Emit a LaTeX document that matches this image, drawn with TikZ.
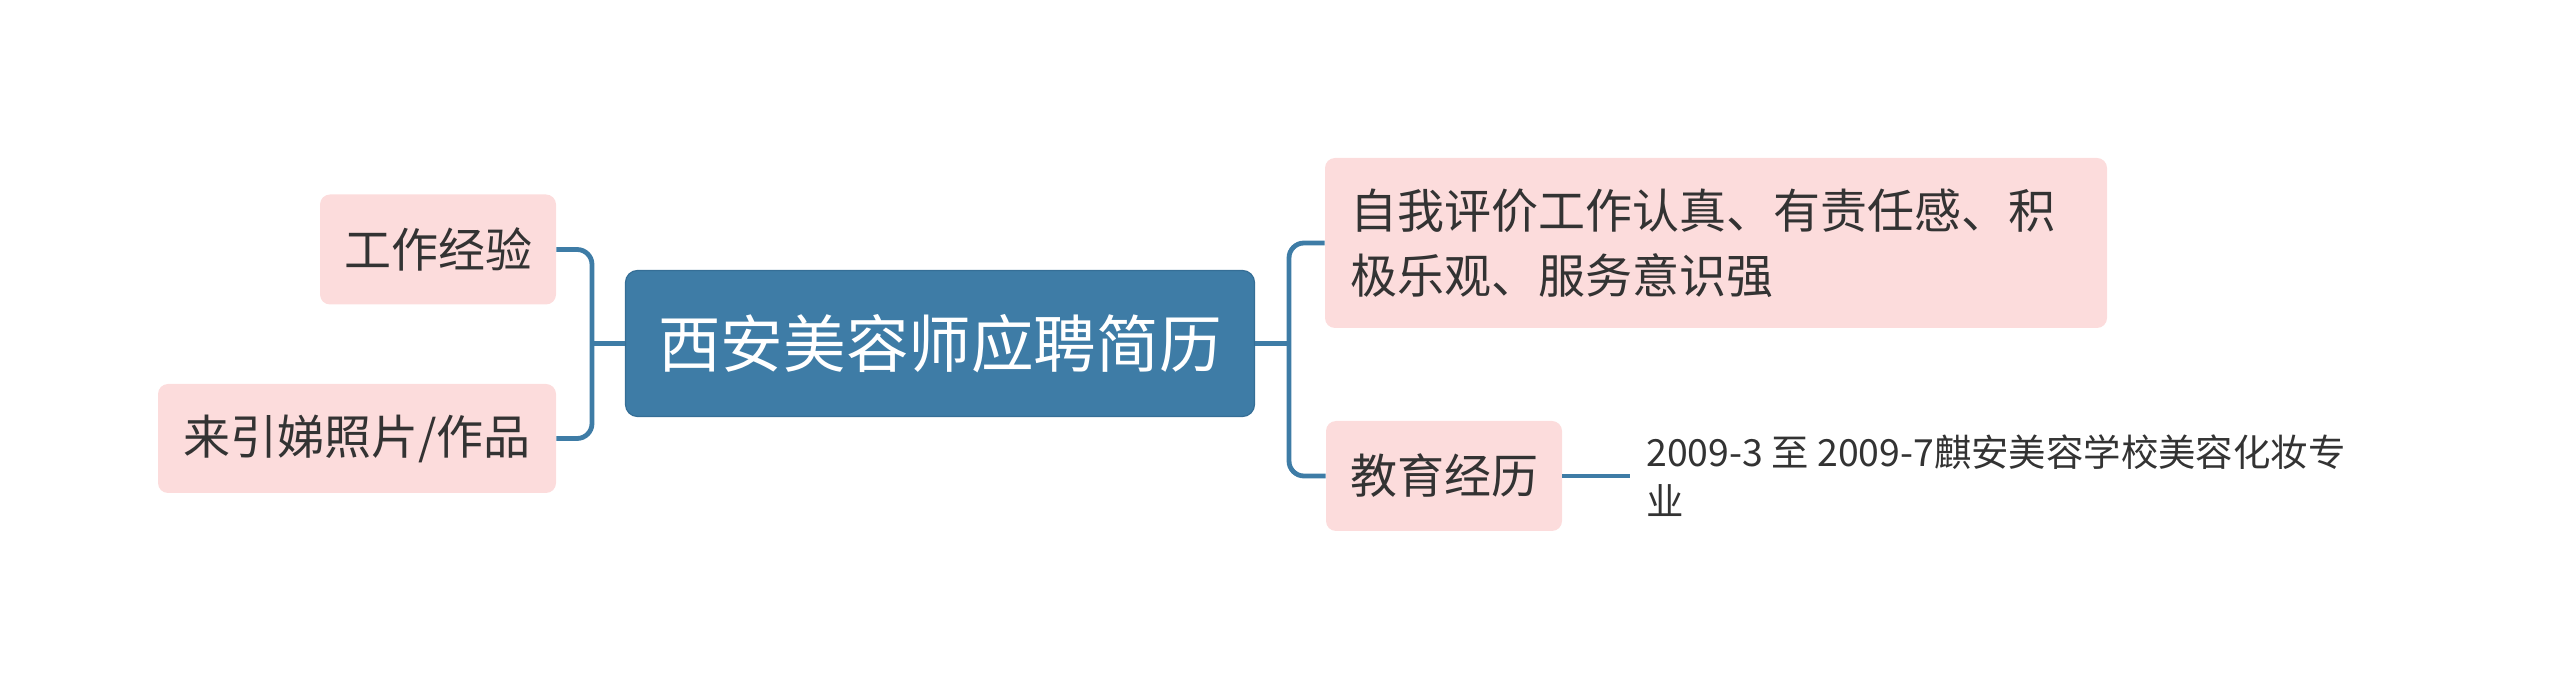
\documentclass[tikz,border=0pt]{standalone}
\usepackage{fontspec}
\setmainfont{Noto Sans CJK SC}
\definecolor{mainblue}{HTML}{3E7CA6}
\definecolor{mainborder}{HTML}{356E96}
\definecolor{pinkfill}{HTML}{FCDCDC}
\definecolor{txt}{HTML}{333333}
\begin{document}
\begin{tikzpicture}[x=0.5pt,y=-0.5pt,
  centerbox/.style={draw=mainborder,line width=0.6pt,fill=mainblue,rounded corners=6pt,text=white,
    font=\fontsize{31.3}{38}\selectfont,minimum width=314.5pt,minimum height=73pt,inner sep=0pt},
  branchbox/.style={fill=pinkfill,rounded corners=5pt,text=txt,
    font=\fontsize{23.5}{32.5}\selectfont,inner sep=0pt},
  leaftext/.style={text=txt,font=\fontsize{18.7}{24.5}\selectfont,align=left,inner xsep=8pt,inner ysep=0pt},
  conn/.style={draw=mainblue,line width=2.4pt}]
\useasboundingbox (0,0) rectangle (2560,699);
\node[centerbox] (c) at (940,343.5) {西安美容师应聘简历};
\node[branchbox,minimum width=118pt,minimum height=55pt] (l1) at (438,249.5) {工作经验};
\node[branchbox,minimum width=199pt,minimum height=54.5pt] (l2) at (357,438.5) {来引娣照片/作品};
\node[branchbox,minimum width=391pt,minimum height=85pt,align=left,text width=366pt] (r1) at (1716,243)
  {自我评价工作认真、有责任感、积\\极乐观、服务意识强};
\node[branchbox,minimum width=118pt,minimum height=55pt] (r2) at (1444,476) {教育经历};
\node[leaftext,anchor=west] (e) at (1630,476) {2009-3 至 2009-7麒安美容学校美容化妆专\\业};
\coordinate (jl) at (592,343.5);
\coordinate (jr) at (1289,343.5);
\draw[conn] (c.west) -- (jl);
\draw[conn,rounded corners=7.5pt] (l1.east) -| (jl) |- (l2.east);
\draw[conn] (c.east) -- (jr);
\draw[conn,rounded corners=7.5pt] (r1.west) -| (jr) |- (r2.west);
\draw[conn] (r2.east) -- (e.west);
\end{tikzpicture}
\end{document}
